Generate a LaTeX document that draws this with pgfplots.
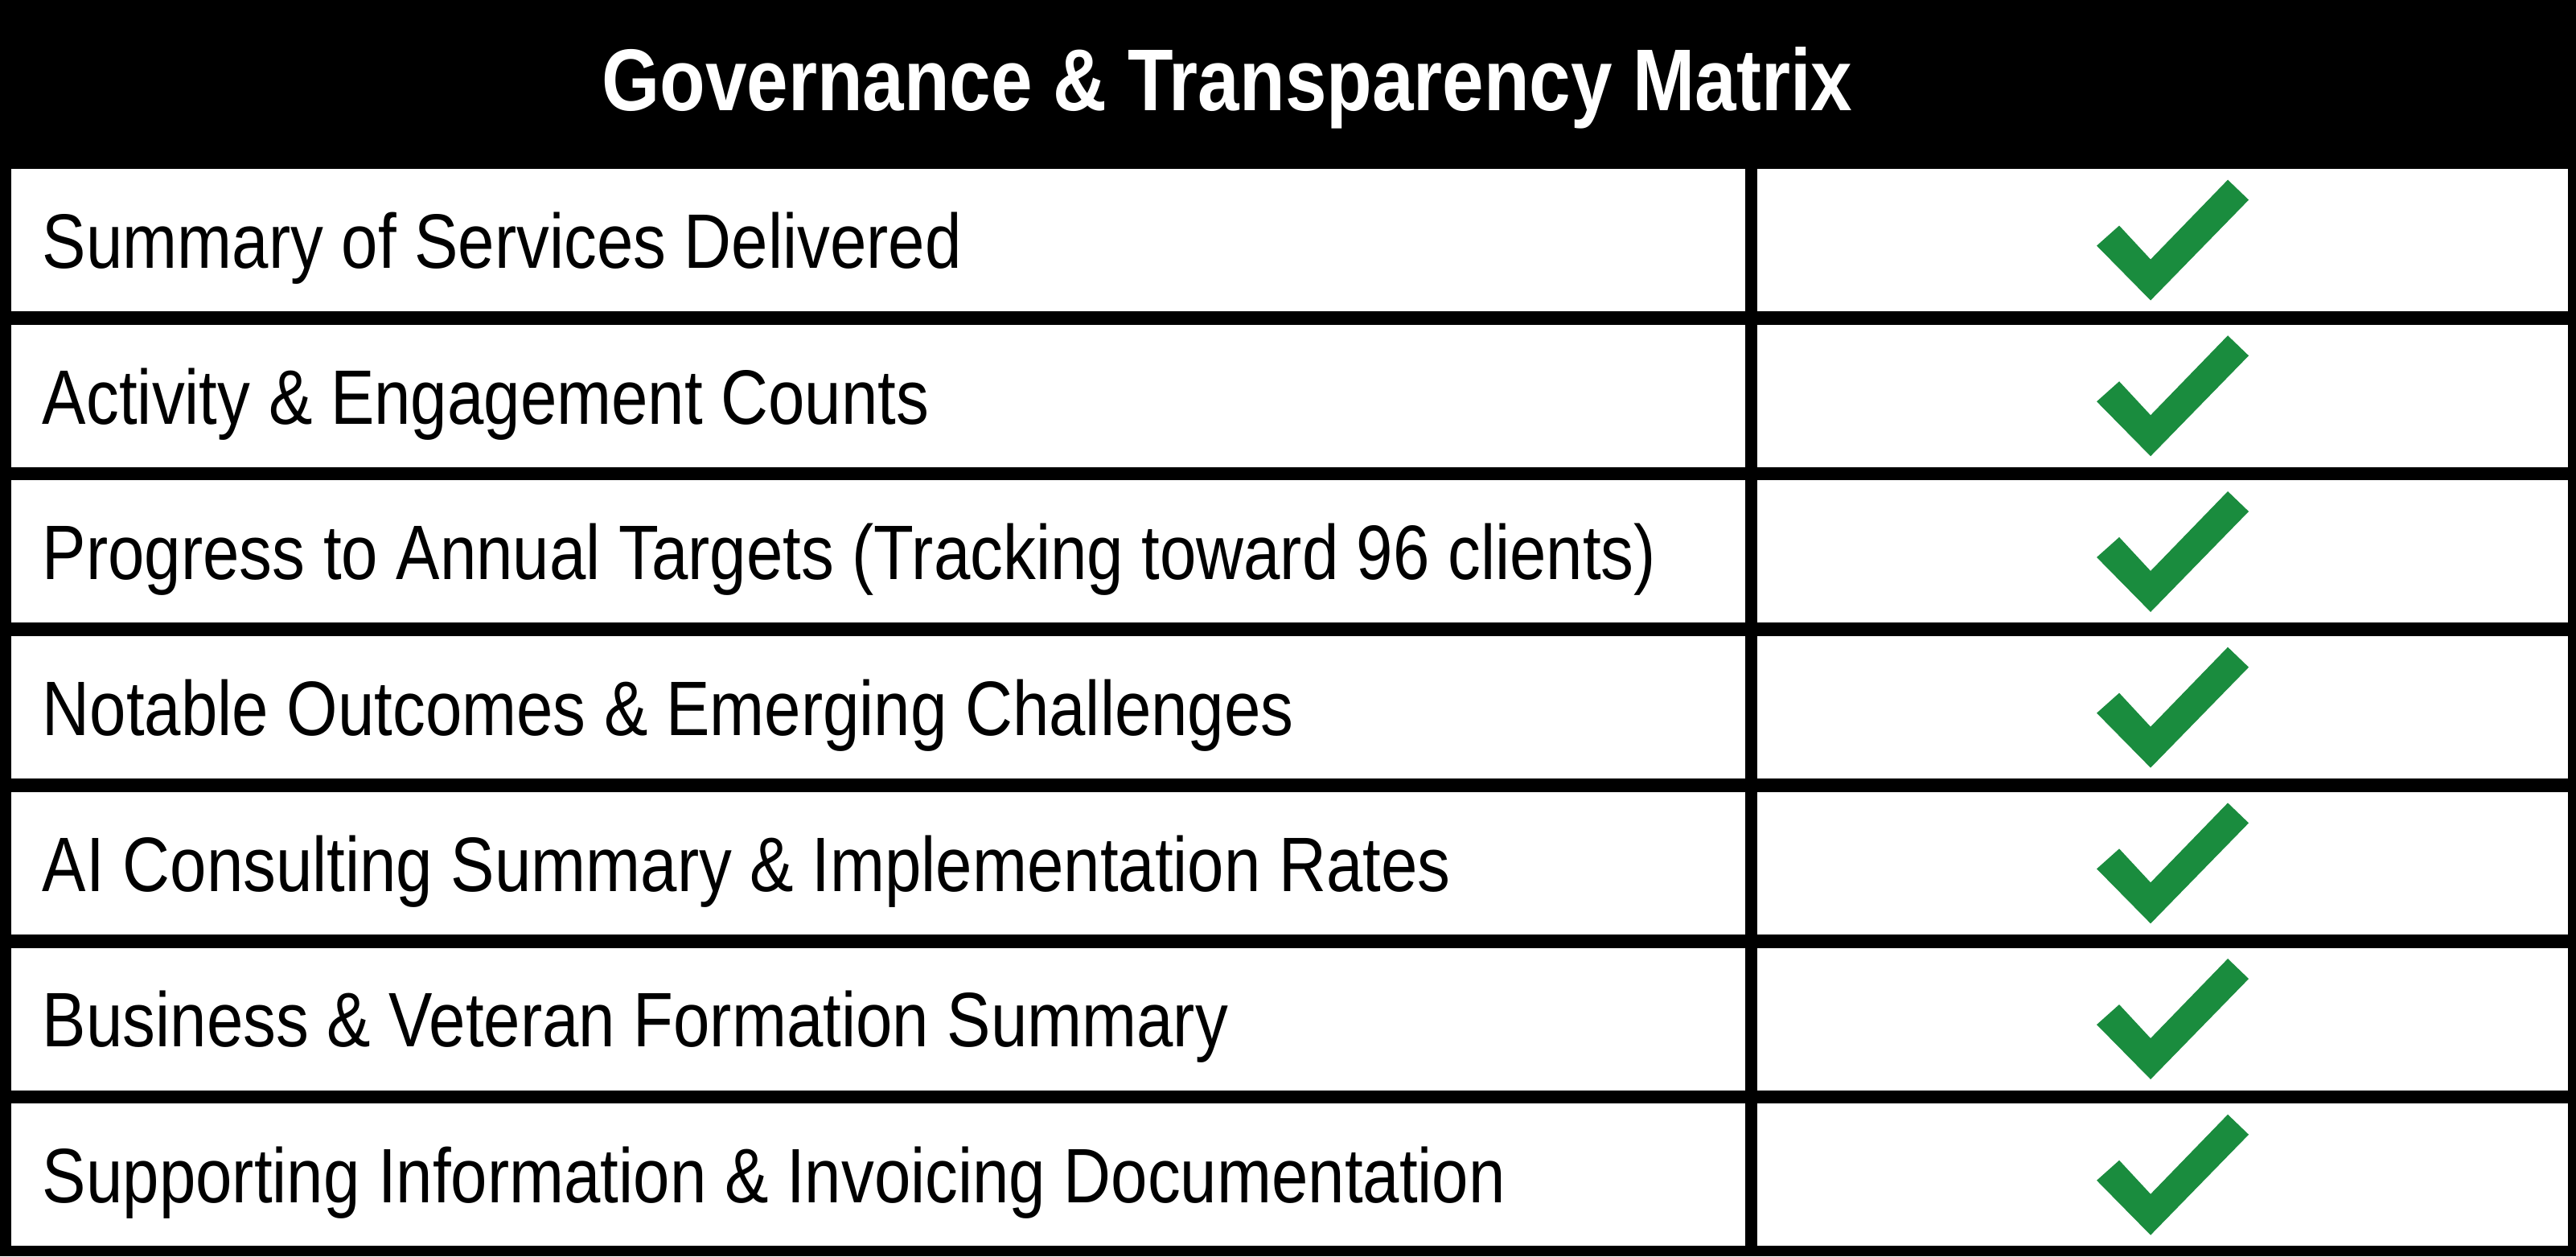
\documentclass[border=0pt]{standalone}
\usepackage{pgfplots}
\pgfplotsset{compat=1.18}
\usepackage{pgfplotstable}
\usepackage{fontspec}
\setmainfont{Liberation Sans}[FakeStretch=0.85]
\definecolor{chkgreen}{RGB}{26,140,62}

\pgfdeclareplotmark{chk}{%
  \pgfpathmoveto{\pgfpoint{-6.6pt}{1.8pt}}%
  \pgfpathlineto{\pgfpoint{-2.7pt}{-2.4pt}}%
  \pgfpathlineto{\pgfpoint{6.9pt}{7.5pt}}%
  \pgfpathlineto{\pgfpoint{9.5pt}{5.0pt}}%
  \pgfpathlineto{\pgfpoint{-2.7pt}{-7.5pt}}%
  \pgfpathlineto{\pgfpoint{-9.4pt}{-0.7pt}}%
  \pgfpathclose
  \pgfusepathqfill}

% row, x, y centre (pixels from top), status (1 = delivered)
\pgfplotstableread{
row x y status
1 2701 298.5 1
2 2701 492.2 1
3 2701 685.9 1
4 2701 879.6 1
5 2701 1073.3 1
6 2701 1267.0 1
7 2701 1460.7 1
}\statustable

\begin{document}
\begin{tikzpicture}
\begin{axis}[
  width=320.3pt, height=156.2pt, scale only axis,
  xmin=0, xmax=3203, ymin=0, ymax=1562, y dir=reverse,
  hide axis, clip=false,
]
% background and table frame
\fill[black] (axis cs:0,0) rectangle (axis cs:3203,1562);
\fill[white] (axis cs:14,210) rectangle (axis cs:2170,387);
\fill[white] (axis cs:2185,210) rectangle (axis cs:3193,387);
\fill[white] (axis cs:14,403.7) rectangle (axis cs:2170,580.7);
\fill[white] (axis cs:2185,403.7) rectangle (axis cs:3193,580.7);
\fill[white] (axis cs:14,597.4) rectangle (axis cs:2170,774.4);
\fill[white] (axis cs:2185,597.4) rectangle (axis cs:3193,774.4);
\fill[white] (axis cs:14,791.1) rectangle (axis cs:2170,968.1);
\fill[white] (axis cs:2185,791.1) rectangle (axis cs:3193,968.1);
\fill[white] (axis cs:14,984.8) rectangle (axis cs:2170,1161.8);
\fill[white] (axis cs:2185,984.8) rectangle (axis cs:3193,1161.8);
\fill[white] (axis cs:14,1178.5) rectangle (axis cs:2170,1355.5);
\fill[white] (axis cs:2185,1178.5) rectangle (axis cs:3193,1355.5);
\fill[white] (axis cs:14,1372.2) rectangle (axis cs:2170,1549.2);
\fill[white] (axis cs:2185,1372.2) rectangle (axis cs:3193,1549.2);

\addplot[only marks, mark=chk, color=chkgreen] table[x=x, y=y] {\statustable};

\node[font=\fontsize{10.9}{12}\selectfont\bfseries, text=white] at (axis cs:1526,109) {Governance \& Transparency Matrix};

\begin{scope}[every node/.style={anchor=west, font=\fontsize{9.6}{11}\selectfont, inner sep=0pt}]
\node at (axis cs:51,308.5) {Summary of Services Delivered};
\node at (axis cs:51,502.2) {Activity \& Engagement Counts};
\node at (axis cs:51,695.9) {Progress to Annual Targets (Tracking toward 96 clients)};
\node at (axis cs:51,889.6) {Notable Outcomes \& Emerging Challenges};
\node at (axis cs:51,1083.3) {AI Consulting Summary \& Implementation Rates};
\node at (axis cs:51,1277.0) {Business \& Veteran Formation Summary};
\node at (axis cs:51,1470.7) {Supporting Information \& Invoicing Documentation};
\end{scope}
\end{axis}
\end{tikzpicture}
\end{document}
